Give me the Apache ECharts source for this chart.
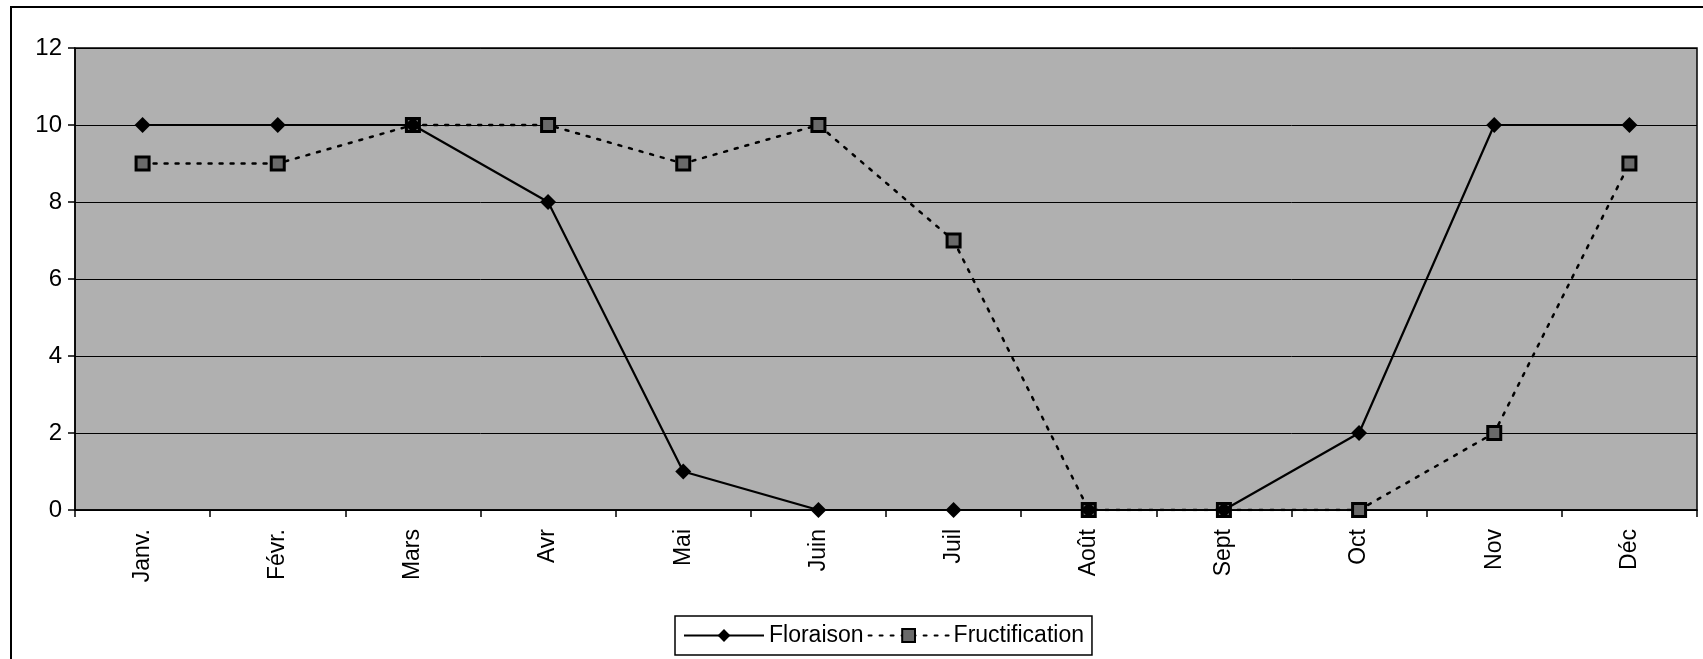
<!DOCTYPE html>
<html><head><meta charset="utf-8">
<script src="https://cdn.jsdelivr.net/npm/echarts@6/dist/echarts.min.js"></script>
<style>html,body{margin:0;padding:0;background:#fff}#c{width:1703px;height:659px}</style>
</head><body><div id="c"></div>
<script>
const months = ['Janv.','Févr.','Mars','Avr','Mai','Juin','Juil','Août','Sept','Oct','Nov','Déc'];
const floraison = [10,10,10,8,1,0,0,0,0,2,10,10];
const fructification = [9,9,10,10,9,10,7,0,0,0,2,9];
const yTicks = {min:0, max:12, interval:2};

const chart = echarts.init(document.getElementById('c'));
const font = 'Arial, "Liberation Sans", sans-serif';
chart.setOption({
  animation:false,
  backgroundColor:'#fff',
  textStyle:{fontFamily:font},
  graphic:[
    {type:'polyline', shape:{points:[[11,659],[11,7],[1703,7]]}, style:{stroke:'#000', lineWidth:2, fill:null}}
  ],
  grid:{left:75, right:6, top:48, bottom:149, show:true, backgroundColor:'#b0b0b0', borderColor:'#000', borderWidth:1.5},
  legend:{
    bottom:4, left:675,
    itemWidth:80, itemHeight:16, itemGap:4,
    padding:[8,8], borderColor:'#000', borderWidth:1.5, backgroundColor:'#fff',
    textStyle:{fontSize:23, color:'#000', fontFamily:font},
    data:['Floraison','Fructification']
  },
  xAxis:{
    type:'category', data:months, boundaryGap:true,
    axisLine:{lineStyle:{color:'#000', width:1.5}},
    axisTick:{show:true, length:7, inside:false, lineStyle:{color:'#000', width:1.5}},
    axisLabel:{rotate:90, margin:19, fontSize:23, color:'#000', fontFamily:font},
    splitLine:{show:false}
  },
  yAxis:{
    type:'value', min:yTicks.min, max:yTicks.max, interval:yTicks.interval,
    axisLine:{show:true, lineStyle:{color:'#000', width:1.5}},
    axisTick:{show:true, length:7, lineStyle:{color:'#000', width:1.5}},
    axisLabel:{fontSize:24, color:'#000', margin:13, fontFamily:font},
    splitLine:{show:true, lineStyle:{color:'#000', width:1}}
  },
  series:[
    {name:'Fructification', type:'line', data:fructification, symbol:'rect', symbolSize:13,
     lineStyle:{color:'#000', width:2.5, type:[3,8], cap:'round'},
     itemStyle:{color:'#6a6a6a', borderColor:'#000', borderWidth:3}, z:2},
    {name:'Floraison', type:'line', data:floraison, symbol:'diamond', symbolSize:16,
     lineStyle:{color:'#000', width:2.2}, itemStyle:{color:'#000'}, z:3}
  ]
});
</script></body></html>
